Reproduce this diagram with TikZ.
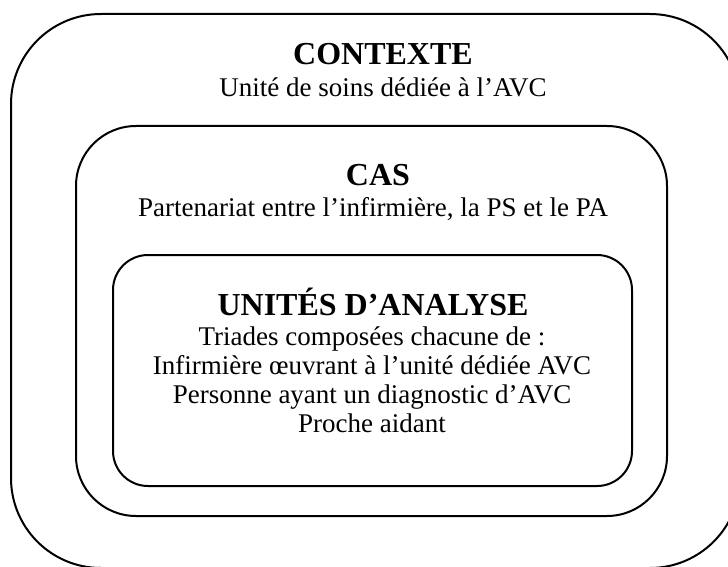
\documentclass[tikz,border=0pt]{standalone}
\usepackage{fontspec}
\setmainfont{Liberation Serif}
\usepackage{tikz}
\usetikzlibrary{shapes}
\pgfdeclarelayer{bg}
\pgfsetlayers{bg,main}
\def\boxfont{\bfseries\fontsize{32}{34}\selectfont}
\def\txtfont{\fontsize{27}{29}\selectfont}
\tikzset{
  frame/.style={shape=rectangle,draw,line width=2pt,inner sep=0pt},
  title/.style={anchor=base,inner sep=0pt,font=\boxfont},
  txt/.style={anchor=base,inner sep=0pt,font=\txtfont}
}
\begin{document}
\begin{tikzpicture}[x=1pt,y=-1pt]

% Fix the page...
\useasboundingbox (0,0) rectangle (728,567);
\clip (0,0) rectangle (728,567);

% Draw the frames...
\begin{pgfonlayer}{bg}
\node (contexte) at (  375.5,  291.0) [frame,rounded corners=90pt,minimum width=729pt,minimum height=554pt] {};
\node (cas) at (  371.5,  321.0) [frame,rounded corners=60pt,minimum width=591pt,minimum height=390pt] {};
\node (unites) at (  372.5,  370.5) [frame,rounded corners=35pt,minimum width=519pt,minimum height=231pt] {};
\end{pgfonlayer}

% Draw the texts...
\node (t0) at (  383.0,   65.0) [title] {CONTEXTE};
\node (s0) at (  383.0,   97.0) [txt] {Unité de soins dédiée à l’AVC};
\node (t1) at (  378.0,  185.0) [title] {CAS};
\node (s1) at (  373.0,  216.0) [txt] {Partenariat entre l’infirmière, la PS et le PA};
\node (t2) at (  373.0,  315.0) [title] {UNITÉS D’ANALYSE};
\foreach \line [count=\i] in {Triades composées chacune de :,Infirmière œuvrant à l’unité dédiée AVC,Personne ayant un diagnostic d’AVC,Proche aidant}
  \node (l\i) at (372.0, 316.0+29*\i) [txt] {\line};

\end{tikzpicture}
\end{document}
